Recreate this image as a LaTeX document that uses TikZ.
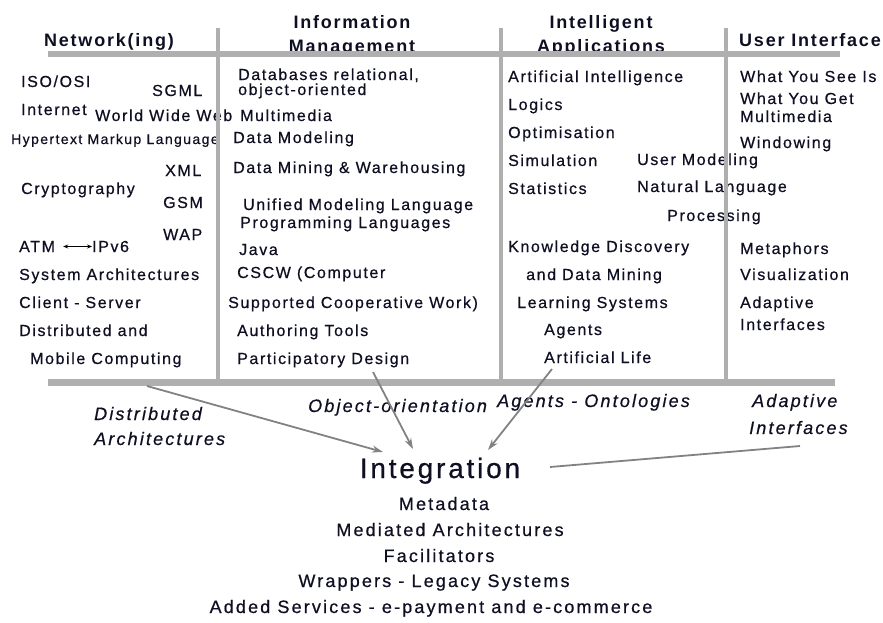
\documentclass[tikz,border=0pt]{standalone}
\usepackage{fontspec}
\setmainfont{Liberation Sans}
\newfontfamily\bodyfont[LetterSpace=10, FakeBold=0.6]{Liberation Sans}
\newfontfamily\headfont[LetterSpace=10]{Liberation Sans}
\newfontfamily\wideitfont[LetterSpace=12, FakeBold=0.6]{Liberation Sans}
\usetikzlibrary{arrows.meta}

\definecolor{ink}{RGB}{15,15,35}
\definecolor{barcol}{RGB}{175,175,175}
\definecolor{arrcol}{RGB}{130,130,130}

\tikzstyle{item}=[anchor=base west, inner sep=0pt, text=ink, font=\bodyfont\fontsize{16}{18}\selectfont]
\tikzstyle{tiny}=[item, font=\bodyfont\fontsize{14}{16}\selectfont]
\tikzstyle{head}=[anchor=base, inner sep=0pt, text=ink, font=\headfont\bfseries\fontsize{18}{20}\selectfont]
\tikzstyle{topic}=[anchor=base west, inner sep=0pt, text=ink, font=\wideitfont\itshape\fontsize{18}{20}\selectfont]
\tikzstyle{service}=[anchor=base, inner sep=0pt, text=ink, font=\wideitfont\fontsize{18}{20}\selectfont]
\tikzstyle{bar}=[draw=barcol, line width=6pt]
\tikzstyle{pole}=[draw=barcol, line width=4pt]
\tikzstyle{flow}=[draw=arrcol, line width=1.8pt, -{Stealth[length=11pt,width=7pt]}]
\tikzstyle{link}=[draw=arrcol, line width=1.8pt]

\begin{document}
\begin{tikzpicture}[x=1pt, y=-1pt]
    \useasboundingbox (0,0) rectangle (883,622);

    % column heads
    \node[head] (hnet)  at (109, 46) {Network(ing)};
    \node[head] (hinf1) at (352, 28) {Information};
    \node[head] (hinf2) at (352, 52) {Management};
    \node[head] (hint1) at (601, 28) {Intelligent};
    \node[head] (hint2) at (601, 52) {Applications};
    \node[head] (hui)   at (810, 46) {User Interface};

    % networking
    \node[item] (iso)  at (21, 87)  {ISO/OSI};
    \node[item] (sgml) at (152, 96) {SGML};
    \node[item] (inet) at (21, 115) {Internet};
    \node[item] (www)  at (95, 121) {World Wide Web};
    \node[tiny] (html) at (11, 144) {Hypertext Markup Language};
    \node[item] (xml)  at (165, 176) {XML};
    \node[item] (cry)  at (21, 194) {Cryptography};
    \node[item] (gsm)  at (163, 208) {GSM};
    \node[item] (wap)  at (163, 240) {WAP};
    \node[item] (atm)  at (19, 252) {ATM};
    \node[item] (ipv6) at (92, 252) {IPv6};
    \node[item] (sys)  at (19, 280) {System Architectures};
    \node[item] (cs)   at (19, 308) {Client - Server};
    \node[item] (dist) at (19, 336) {Distributed and};
    \node[item] (mob)  at (30, 364) {Mobile Computing};
    \draw[{Stealth[length=5pt,width=4pt]}-{Stealth[length=5pt,width=4pt]}, line width=0.9pt]
        ([xshift=8pt]atm.east) -- (ipv6.west);

    % information management
    \node[item] (db)   at (238, 80)  {Databases relational,};
    \node[item] (oo)   at (238, 95)  {object-oriented};
    \node[item] (mm)   at (240, 121) {Multimedia};
    \node[item] (dm)   at (233, 143) {Data Modeling};
    \node[item] (dw)   at (233, 173) {Data Mining \& Warehousing};
    \node[item] (uml)  at (243, 210) {Unified Modeling Language};
    \node[item] (pl)   at (240, 228) {Programming Languages};
    \node[item] (java) at (239, 255) {Java};
    \node[item] (cscw) at (237, 278) {CSCW (Computer};
    \node[item] (scw)  at (228, 308) {Supported Cooperative Work)};
    \node[item] (auth) at (237, 336) {Authoring Tools};
    \node[item] (pd)   at (237, 364) {Participatory Design};

    % intelligent applications
    \node[item] (ai)   at (508, 82)  {Artificial Intelligence};
    \node[item] (log)  at (508, 110) {Logics};
    \node[item] (opt)  at (508, 138) {Optimisation};
    \node[item] (sim)  at (508, 166) {Simulation};
    \node[item] (stat) at (508, 194) {Statistics};
    \node[item] (um)   at (637, 165) {User Modeling};
    \node[item] (nl)   at (637, 192) {Natural Language};
    \node[item] (proc) at (667, 221) {Processing};
    \node[item] (kd)   at (508, 252) {Knowledge Discovery};
    \node[item] (kdm)  at (526, 280) {and Data Mining};
    \node[item] (ls)   at (517, 308) {Learning Systems};
    \node[item] (ag)   at (544, 335) {Agents};
    \node[item] (al)   at (544, 363) {Artificial Life};

    % user interface
    \node[item] (wys)  at (740, 82)  {What You See Is};
    \node[item] (wyg)  at (740, 104) {What You Get};
    \node[item] (umm)  at (740, 122) {Multimedia};
    \node[item] (win)  at (740, 148) {Windowing};
    \node[item] (met)  at (740, 254) {Metaphors};
    \node[item] (vis)  at (740, 280) {Visualization};
    \node[item] (ada)  at (740, 308) {Adaptive};
    \node[item] (adi)  at (740, 330) {Interfaces};

    % frame
    \draw[pole] (218, 28) -- (218, 382);
    \draw[pole] (501, 28) -- (501, 382);
    \draw[pole] (726, 28) -- (726, 382);
    \draw[bar] (48, 54) -- (840, 54);
    \draw[bar, line width=7pt] (48, 382) -- (835, 382);

    % themes
    \node[topic] (tdist1) at (94, 420)  {Distributed};
    \node[topic] (tdist2) at (94, 445)  {Architectures};
    \node[topic] (toor)   at (308, 412) {Object-orientation};
    \node[topic] (tag)    at (497, 407) {Agents - Ontologies};
    \node[topic] (tad1)   at (752, 407) {Adaptive};
    \node[topic] (tad2)   at (749, 434) {Interfaces};

    % integration
    \node[service, font=\bodyfont\fontsize{28}{30}\selectfont] (integ) at (440, 478) {Integration};
    \node[service] (meta) at (444, 510) {Metadata};
    \node[service] (med)  at (450, 536) {Mediated Architectures};
    \node[service] (fac)  at (439, 562) {Facilitators};
    \node[service] (wrap) at (434, 587) {Wrappers - Legacy Systems};
    \node[service] (add)  at (431, 613) {Added Services - e-payment and e-commerce};

    \coordinate (fdist) at (147, 386);
    \coordinate (foo)   at (373, 372);
    \coordinate (fag)   at (552, 369);
    \coordinate (fad)   at (800, 446);
    \coordinate (tdist) at (383, 452);
    \coordinate (too)   at (413, 449);
    \coordinate (tagt)  at (488, 450);
    \coordinate (tad)   at (550, 467);

    \draw[flow] (fdist) -- (tdist);
    \draw[flow] (foo) -- (too);
    \draw[flow] (fag) -- (tagt);
    \draw[link] (fad) -- (tad);
\end{tikzpicture}
\end{document}
